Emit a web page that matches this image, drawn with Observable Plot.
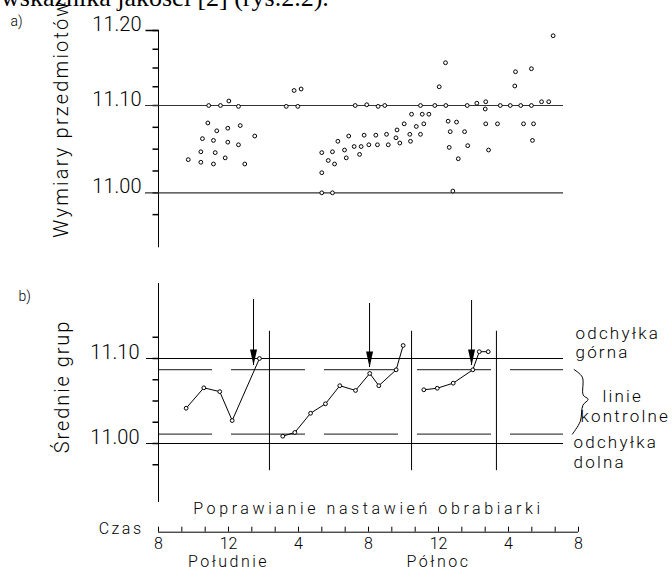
<!DOCTYPE html>
<html><head><meta charset="utf-8">
<script src="https://cdn.jsdelivr.net/npm/d3@7"></script>
<script src="https://cdn.jsdelivr.net/npm/@observablehq/plot@0.6"></script>
<style>
body{margin:0;background:#fff;}
#wrap{position:relative;width:672px;height:567px;overflow:hidden;background:#fff;}
#wrap svg{position:absolute;left:0;top:0;}
#doc{position:absolute;left:1px;top:-15px;font-family:"Liberation Serif","Times New Roman",serif;font-size:26px;line-height:26px;white-space:nowrap;color:#000;}
#wrap svg text{font-family:Roboto,"Open Sans","DejaVu Sans",sans-serif;font-weight:300;fill:#000;}
</style>
</head><body>
<div id="wrap"><div id="doc">wskaźnika jakości [2] (rys.2.2).</div></div>
<script>
// ---- Panel a: individual part dimensions (time in hours from 8:00, value in mm)
const timesA = [1.70,2.42,2.42,2.51,2.87,2.82,3.14,3.24,3.14,3.33,3.54,3.81,3.96,3.96,4.02,4.57,4.57,4.67,4.93,5.50,
  7.30,7.75,7.96,8.15,
  9.33,9.33,9.33,9.70,9.94,9.94,10.06,10.25,10.63,10.73,10.87,11.18,11.24,11.49,11.58,11.75,11.90,12.02,12.42,12.51,12.55,12.93,13.03,13.13,13.57,13.63,13.79,
  14.04,14.36,14.40,14.46,14.73,14.97,14.97,15.07,15.16,15.45,15.79,16.04,16.40,16.42,16.55,16.67,16.61,17.03,17.13,16.82,17.49,17.67,17.64,
  18.19,18.70,18.67,18.70,18.86,19.37,19.53,20.10,20.36,20.40,20.70,20.86,21.31,21.31,21.43,21.37,21.89,22.30,22.55];
const valuesA = [11.038,11.047,11.035,11.062,11.100,11.080,11.060,11.046,11.033,11.071,11.100,11.040,11.074,11.058,11.106,11.099,11.055,11.077,11.033,11.065,
  11.099,11.120,11.099,11.122,
  11.046,11.023,11.000,11.037,11.047,11.000,11.033,11.059,11.049,11.040,11.065,11.053,11.100,11.044,11.053,11.066,11.101,11.055,11.066,11.055,11.099,11.100,11.067,11.055,11.063,11.072,11.057,
  11.079,11.067,11.059,11.090,11.076,11.067,11.100,11.090,11.079,11.090,11.100,11.125,11.157,11.100,11.082,11.070,11.052,11.081,11.039,11.002,11.070,11.054,11.100,
  11.103,11.105,11.096,11.079,11.049,11.079,11.100,11.100,11.126,11.145,11.100,11.079,11.100,11.149,11.079,11.060,11.105,11.105,11.193];

// ---- Panel b: group means in three runs
const runB = [1,1,1,1,1, 2,2,2,2,2,2,2,2,2,2, 3,3,3,3,3,3];
const timesB = [1.58,2.59,3.50,4.21,5.77, 7.10,7.79,8.69,9.54,10.36,11.26,12.07,12.59,13.58,13.98, 15.16,15.93,16.84,17.96,18.33,18.84];
const valuesB = [11.0415,11.0655,11.061,11.027,11.100, 11.0086,11.013,11.0356,11.0467,11.068,11.0624,11.0824,11.068,11.0867,11.1153, 11.0632,11.065,11.071,11.0867,11.108,11.108];

const specLimits = [11.00, 11.10];
const upperControl = 11.087, lowerControl = 11.011;
const separatorHours = [6.34, 14.46, 19.31];
const arrowHours = [5.43, 12.06, 17.89];
const arrowTips = [11.0918, 11.0894, 11.0918];
const arrowTops = [11.1694, 11.1647, 11.1682];

const tickValuesA = [10.975,11.0,11.025,11.05,11.075,11.1,11.125,11.15,11.175,11.2];
const labelValuesA = [11.0, 11.1, 11.2];
const tickValuesB = [10.975,11.0,11.025,11.05,11.075,11.1,11.125];
const labelValuesB = [11.0, 11.1];
const axisSpanA = [10.937, 11.2];
const axisSpanB = [10.9306, 11.1882];
const separatorSpan = [10.968, 11.132];

const timeTickHours = [0,1.333,2.667,4,5.333,6.667,8,9.333,10.667,12,13.333,14.667,16,17.333,18.667,20,21.333,22.667,24];
const timeLabelHours = [0,4,8,12,16,20,24];
const timeLabels = ["8","12","4","8","12","4","8"];
const dayParts = [{t: 4, label: "Południe"}, {t: 16, label: "Północ"}];

const pointsA = timesA.map((t, i) => ({t, v: valuesA[i]}));
const pointsB = timesB.map((t, i) => ({t, v: valuesB[i], run: runB[i]}));
const arrows = arrowHours.map((t, i) => ({t, tip: arrowTips[i], top: arrowTops[i]}));
const mid = (upperControl + lowerControl) / 2;
const brace = [
  {t: 23.75, v: upperControl}, {t: 24.22, v: upperControl - 0.009}, {t: 24.27, v: mid + 0.008},
  {t: 24.55, v: mid + 0.003}, {t: 24.25, v: mid - 0.004}, {t: 24.1, v: lowerControl + 0.015},
  {t: 23.65, v: lowerControl}
];

// mark shapes
const arrowHead = {draw(ctx) { ctx.moveTo(0, 0); ctx.lineTo(-3.5, -16); ctx.lineTo(3.5, -16); ctx.closePath(); }};
const tickLeft = {draw(ctx) { ctx.moveTo(-6, 0); ctx.lineTo(0, 0); }};
const tickLeftLong = {draw(ctx) { ctx.moveTo(-13, 0); ctx.lineTo(0, 0); }};

// the hand-drawn upper panel has a wider step below 11.10 than above it
const bendA = d3.scaleLinear().domain([11.0, 11.1, 11.2]).range([0, 87.3, 162.3]);

const common = {
  width: 672, height: 567, marginLeft: 158, marginRight: 94, marginTop: 0, marginBottom: 0,
  style: {background: "transparent", overflow: "visible"},
  x: {domain: [0, 24], range: [158, 578], axis: null}
};
const fmt = d => d.toFixed(2);

const plotA = Plot.plot({
  ...common,
  y: {type: "linear", transform: bendA, domain: [0, 162.3], range: [192.3, 30], axis: null},
  marks: [
    Plot.ruleX([0], {y1: axisSpanA[0], y2: axisSpanA[1], stroke: "black"}),
    Plot.dot(tickValuesA, {x: () => 0, y: d => d, symbol: tickLeft, stroke: "black", fill: "none"}),
    Plot.dot([labelValuesA[2]], {x: () => 0, y: d => d, symbol: tickLeftLong, stroke: "black", fill: "none"}),
    Plot.text(labelValuesA, {y: d => d, text: fmt, frameAnchor: "left", dx: -17, textAnchor: "end", lineAnchor: "bottom", fontSize: 20}),
    Plot.ruleY(specLimits, {insetLeft: -13, insetRight: 15, stroke: "#333", strokeWidth: 1.2}),
    Plot.dot(pointsA, {x: "t", y: "v", r: 1.9, stroke: "black", fill: "white", strokeWidth: 1}),
    Plot.text(["a)"], {frameAnchor: "top-left", dx: -148, dy: 25, textAnchor: "start", lineAnchor: "bottom", fontSize: 14}),
    Plot.text(["Wymiary przedmiotów"], {frameAnchor: "top-left", dx: -91, dy: 118, rotate: -90, textAnchor: "middle", lineAnchor: "bottom", fontSize: 20})
  ]
});

const plotB = Plot.plot({
  ...common,
  y: {domain: [11.0, 11.1], range: [443, 358], axis: null},
  marks: [
    Plot.ruleX([0], {y1: axisSpanB[0], y2: axisSpanB[1], stroke: "black"}),
    Plot.dot(tickValuesB, {x: () => 0, y: d => d, symbol: tickLeft, stroke: "black", fill: "none"}),
    Plot.text(labelValuesB, {y: d => d, text: fmt, frameAnchor: "left", dx: -19, textAnchor: "end", lineAnchor: "bottom", fontSize: 20}),
    Plot.ruleY(specLimits, {insetLeft: -12, insetRight: 15, stroke: "black", strokeWidth: 1}),
    Plot.ruleY([upperControl, lowerControl], {insetLeft: 1, insetRight: 15, stroke: "#444", strokeWidth: 1.2, strokeDasharray: "74,19", strokeDashoffset: 21}),
    Plot.ruleX(separatorHours, {x: d => d, y1: separatorSpan[0], y2: separatorSpan[1], stroke: "black"}),
    Plot.ruleX(arrows, {x: "t", y1: "tip", y2: "top", stroke: "black"}),
    Plot.dot(arrows, {x: "t", y: "tip", symbol: arrowHead, fill: "black", stroke: "none"}),
    Plot.line(pointsB, {x: "t", y: "v", z: "run", stroke: "black", strokeWidth: 1}),
    Plot.dot(pointsB, {x: "t", y: "v", r: 1.9, stroke: "black", fill: "white", strokeWidth: 1}),
    Plot.line(brace, {x: "t", y: "v", curve: "catmull-rom", stroke: "black", strokeWidth: 1}),
    Plot.text([specLimits[1]], {y: d => d, text: () => "odchyłka\ngórna", frameAnchor: "right", dx: -3, dy: -1, textAnchor: "start", lineAnchor: "bottom", lineHeight: 1.1, fontSize: 17}),
    Plot.text([specLimits[0]], {y: d => d, text: () => "odchyłka\ndolna", frameAnchor: "right", dx: -5, dy: -10, textAnchor: "start", lineAnchor: "top", lineHeight: 1.2, fontSize: 17}),
    Plot.text([mid], {y: d => d, text: () => "linie", frameAnchor: "right", dx: 24, textAnchor: "start", lineAnchor: "bottom", fontSize: 17}),
    Plot.text([mid], {y: d => d, text: () => "kontrolne", frameAnchor: "right", dx: 2, dy: 20, textAnchor: "start", lineAnchor: "bottom", fontSize: 17}),
    Plot.text(["b)"], {frameAnchor: "top-left", dx: -140, dy: 300, textAnchor: "start", lineAnchor: "bottom", fontSize: 14}),
    Plot.text(["Średnie grup"], {frameAnchor: "top-left", dx: -90, dy: 386, rotate: -90, textAnchor: "middle", lineAnchor: "bottom", fontSize: 20})
  ]
});

const plotC = Plot.plot({
  ...common,
  y: {domain: [0, 1], range: [531.7, 526.7], axis: null},
  marks: [
    Plot.ruleY([0], {stroke: "black"}),
    Plot.ruleX(timeTickHours, {x: d => d, y1: 0, y2: 1, stroke: "black"}),
    Plot.text(timeLabelHours, {x: d => d, y: 0, text: (d, i) => timeLabels[i], lineAnchor: "top", dy: 5, fontSize: 16}),
    Plot.text(["Czas"], {x: () => 0, y: () => 0, dx: -15, dy: 1.3, textAnchor: "end", lineAnchor: "bottom", fontSize: 16}),
    Plot.text(dayParts, {x: "t", y: () => 0, text: "label", dy: 35, lineAnchor: "bottom", fontSize: 16}),
    Plot.text(["Poprawianie nastawień obrabiarki"], {x: () => 12, y: () => 1, dy: -13.7, lineAnchor: "bottom", fontSize: 16})
  ]
});

const wrap = document.getElementById("wrap");
wrap.append(plotA, plotB, plotC);

// the drafting lettering of the original is widely spaced
const letterSpacing = [
  ["Wymiary", "2.2px"], ["Średnie", "1.9px"], ["odchyłka", "2.2px"], ["linie", "2.2px"], ["kontrolne", "2.2px"],
  ["Poprawianie", "3.6px"], ["Czas", "2.5px"], ["Południe", "2.5px"], ["Północ", "2.5px"]
];
d3.select(wrap).selectAll("svg text").each(function() {
  const s = this.textContent;
  const hit = letterSpacing.find(([k]) => s.startsWith(k));
  if (hit) this.style.letterSpacing = hit[1];
});
</script>
</body></html>
